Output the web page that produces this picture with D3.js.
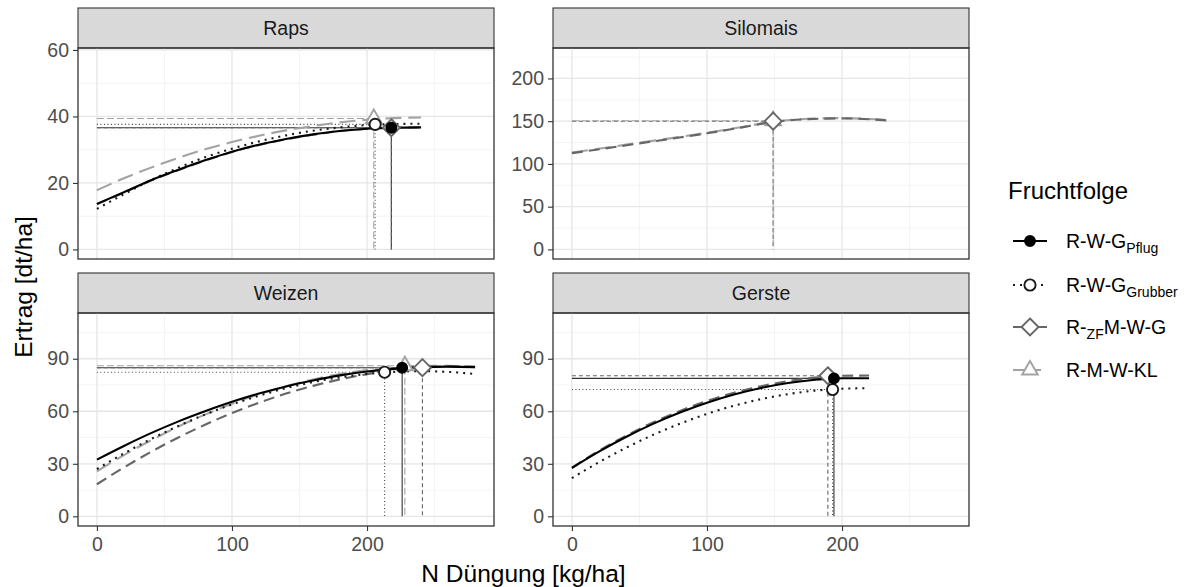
<!DOCTYPE html>
<html>
<head>
<meta charset="utf-8">
<script src="https://cdnjs.cloudflare.com/ajax/libs/d3/7.8.5/d3.min.js"></script>
<style>
  body { margin: 0; background: #fff; }
  svg { display: block; font-family: "Liberation Sans", Arial, sans-serif; }
</style>
</head>
<body>
<svg id="chart" width="1189" height="587"></svg>
<script>

// ---- data ----
const panelNames = ["Raps", "Silomais", "Weizen", "Gerste"];
const seriesNames = ["R-W-G Pflug", "R-W-G Grubber", "R-ZF M-W-G", "R-M-W-KL"];

const xUpper = 280;
const xTicks = [0, 100, 200];
const yUpper = [57.7, 224.4, 110.6, 110.6];
const yTicks = [[0, 20, 40, 60], [0, 50, 100, 150, 200], [0, 30, 60, 90], [0, 30, 60, 90]];

// N rates for the response curves
const rapsN    = [0, 20, 40, 60, 80, 100, 120, 140, 160, 180, 200, 220, 240];
const siloN    = [0, 25, 50, 75, 100, 125, 150, 175, 200, 220, 235];
const weizenN  = [0, 20, 40, 60, 80, 100, 120, 140, 160, 180, 200, 220, 240, 260, 280];
const gersteN  = [0, 20, 40, 60, 80, 100, 120, 140, 160, 180, 200, 220];

// yields [dt/ha]
const rapsPflug   = [13.7, 17.2, 20.8, 23.9, 26.8, 29.4, 31.5, 33.2, 34.6, 35.6, 36.3, 36.6, 36.7];
const rapsGrubber = [12.2, 16.6, 20.8, 24.5, 27.7, 30.3, 32.5, 34.3, 35.7, 36.7, 37.4, 37.7, 37.8];
const rapsZF      = [13.6, 17.1, 20.7, 23.8, 26.7, 29.3, 31.4, 33.1, 34.5, 35.6, 36.3, 36.6, 36.7];
const rapsKL      = [17.8, 21.4, 24.6, 27.5, 30.1, 32.3, 34.2, 35.8, 37.1, 38.2, 39.0, 39.5, 39.7];

const siloZF = [112.6, 118.2, 124.0, 129.8, 135.8, 142.5, 149.2, 152.4, 153.3, 152.3, 150.7];
const siloKL = [113.4, 119.0, 124.8, 130.5, 136.4, 143.0, 149.6, 152.8, 153.6, 152.6, 151.2];

const weizenPflug   = [32.4, 40.2, 47.5, 54.1, 60.0, 65.4, 70.1, 74.2, 77.6, 80.5, 82.7, 84.2, 85.2, 85.5, 85.2];
const weizenGrubber = [27.0, 35.9, 44.1, 51.5, 58.1, 63.9, 68.9, 73.2, 76.7, 79.4, 81.3, 82.5, 82.9, 82.5, 81.3];
const weizenZF      = [18.3, 27.9, 36.8, 44.9, 52.3, 59.0, 64.9, 70.1, 74.5, 78.2, 81.2, 83.4, 84.9, 85.6, 85.6];
const weizenKL      = [25.7, 35.0, 43.4, 51.2, 58.1, 64.3, 69.7, 74.3, 78.2, 81.3, 83.6, 85.1, 85.9, 86.0, 85.1];

const gerstePflug   = [27.6, 36.9, 45.3, 52.8, 59.3, 64.9, 69.6, 73.3, 76.1, 78.0, 78.9, 78.9];
const gersteGrubber = [21.8, 30.9, 39.1, 46.5, 52.9, 58.5, 63.2, 66.9, 69.8, 71.8, 72.9, 73.2];
const gersteZF      = [27.8, 37.4, 46.0, 53.6, 60.2, 65.9, 70.6, 74.3, 77.2, 79.2, 80.3, 80.4];

// optimum N rate and yield per series (null = rotation has no such crop)
const rapsOptN   = [218, 206, 218, 205];
const rapsOptY   = [36.6, 37.6, 36.6, 39.4];
const siloOptN   = [null, null, 149, 149];
const siloOptY   = [null, null, 150.0, 150.6];
const weizenOptN = [226, 213, 241, 228];
const weizenOptY = [84.9, 82.3, 84.9, 86.0];
const gersteOptN = [194, 193, 189.5, null];
const gersteOptY = [78.8, 72.4, 80.3, null];

const curveN = [rapsN, siloN, weizenN, gersteN];
const curveY = [
  [rapsPflug, rapsGrubber, rapsZF, rapsKL],
  [null, null, siloZF, siloKL],
  [weizenPflug, weizenGrubber, weizenZF, weizenKL],
  [gerstePflug, gersteGrubber, gersteZF, null]
];
const optN = [rapsOptN, siloOptN, weizenOptN, gersteOptN];
const optY = [rapsOptY, siloOptY, weizenOptY, gersteOptY];

// ---- styles ----
const lineColor = ["#000000", "#1a1a1a", "#666666", "#a3a3a3"];
const curveDash = [null, "2,5", "11,6", "16,7"];
const refColor  = ["#333333", "#444444", "#666666", "#a3a3a3"];
const refDash   = [null, "1,2.5", "4,3", "7,3"];

// ---- layout ----
const colX = [78, 553];
const panelW = 416;
const stripTop = [8, 273];
const stripH = 40;
const panelH = [211, 213];

const svg = d3.select("#chart");
const diamond = d3.symbolDiamond2 || d3.symbolDiamond;
const triangle = d3.symbolTriangle2 || d3.symbolTriangle;

function addPoint(g, s, cx, cy) {
  if (s == 0 || s == 1) {
    g.append("circle")
      .attr("cx", cx).attr("cy", cy).attr("r", s == 0 ? 5 : 5.6)
      .attr("fill", s == 0 ? "#000" : "#fff")
      .attr("stroke", lineColor[s])
      .attr("stroke-width", 1.9);
  } else {
    let type = s == 2 ? diamond : triangle;
    let size = s == 2 ? 184 : 175;
    g.append("path")
      .attr("d", d3.symbol().type(type).size(size)())
      .attr("transform", "translate(" + cx + "," + cy + ")")
      .attr("fill", "#fff")
      .attr("stroke", lineColor[s])
      .attr("stroke-width", 1.9);
  }
}

function minorTicks(ticks, lo, hi) {
  let step = ticks[1] - ticks[0];
  let out = [];
  for (let t = ticks[0] - step / 2; t <= hi; t += step) {
    if (t >= lo) out.push(t);
  }
  return out;
}

panelNames.forEach(function(name, i) {
  let col = i % 2, row = Math.floor(i / 2);
  let x0 = colX[col];
  let top = stripTop[row] + stripH;
  let h = panelH[row];

  let x = d3.scaleLinear()
    .domain([-0.05 * xUpper, 1.05 * xUpper])
    .range([x0, x0 + panelW]);
  let y = d3.scaleLinear()
    .domain([-0.05 * yUpper[i], 1.05 * yUpper[i]])
    .range([top + h, top]);

  let g = svg.append("g");

  // strip
  g.append("rect")
    .attr("x", x0).attr("y", stripTop[row])
    .attr("width", panelW).attr("height", stripH)
    .attr("fill", "#d9d9d9").attr("stroke", "#333").attr("stroke-width", 1.1);
  g.append("text")
    .attr("x", x0 + panelW / 2).attr("y", stripTop[row] + stripH / 2)
    .attr("dy", "0.36em")
    .attr("text-anchor", "middle")
    .attr("font-size", 19.5)
    .attr("fill", "#1a1a1a")
    .text(name);

  // grid
  let xd = x.domain(), yd = y.domain();
  g.selectAll(".xminor").data(minorTicks(xTicks, xd[0], xd[1])).enter().append("line")
    .attr("x1", d => x(d)).attr("x2", d => x(d)).attr("y1", top).attr("y2", top + h)
    .attr("stroke", "#f1f1f1").attr("stroke-width", 0.8);
  g.selectAll(".yminor").data(minorTicks(yTicks[i], yd[0], yd[1])).enter().append("line")
    .attr("x1", x0).attr("x2", x0 + panelW).attr("y1", d => y(d)).attr("y2", d => y(d))
    .attr("stroke", "#f1f1f1").attr("stroke-width", 0.8);
  g.selectAll(".xmajor").data(xTicks).enter().append("line")
    .attr("x1", d => x(d)).attr("x2", d => x(d)).attr("y1", top).attr("y2", top + h)
    .attr("stroke", "#e6e6e6").attr("stroke-width", 1.3);
  g.selectAll(".ymajor").data(yTicks[i]).enter().append("line")
    .attr("x1", x0).attr("x2", x0 + panelW).attr("y1", d => y(d)).attr("y2", d => y(d))
    .attr("stroke", "#e6e6e6").attr("stroke-width", 1.3);

  // reference lines to the optimum
  for (let s = 0; s < 4; s++) {
    if (optN[i][s] == null) continue;
    let n = optN[i][s], v = optY[i][s];
    let pts = [[0, v], [n, v], [n, 0]];
    g.append("path")
      .attr("d", d3.line().x(d => x(d[0])).y(d => y(d[1]))(pts))
      .attr("fill", "none")
      .attr("stroke", refColor[s])
      .attr("stroke-width", 1.1)
      .attr("stroke-dasharray", refDash[s]);
  }

  // response curves
  let line = d3.line()
    .x(d => x(d[0]))
    .y(d => y(d[1]))
    .curve(d3.curveMonotoneX);
  for (let s = 3; s >= 0; s--) {
    let ys = curveY[i][s];
    if (!ys) continue;
    let pts = curveN[i].map((n, k) => [n, ys[k]]);
    g.append("path")
      .attr("d", line(pts))
      .attr("fill", "none")
      .attr("stroke", lineColor[s])
      .attr("stroke-width", 2.1)
      .attr("stroke-dasharray", curveDash[s]);
  }

  // optimum points
  for (let s = 3; s >= 0; s--) {
    if (optN[i][s] == null) continue;
    addPoint(g, s, x(optN[i][s]), y(optY[i][s]));
  }

  // panel border
  g.append("rect")
    .attr("x", x0).attr("y", top).attr("width", panelW).attr("height", h)
    .attr("fill", "none").attr("stroke", "#333").attr("stroke-width", 1.3);

  // y axis
  let ya = g.append("g")
    .attr("transform", "translate(" + x0 + ",0)")
    .call(d3.axisLeft(y).tickValues(yTicks[i]).tickSize(5).tickPadding(4));
  ya.select(".domain").remove();
  ya.selectAll("line").attr("stroke", "#333").attr("stroke-width", 1.1);
  ya.selectAll("text").attr("font-size", 19.5).attr("fill", "#4d4d4d")
    .attr("font-family", "Liberation Sans, Arial, sans-serif");

  // x axis only on bottom row
  if (row == 1) {
    let xa = g.append("g")
      .attr("transform", "translate(0," + (top + h) + ")")
      .call(d3.axisBottom(x).tickValues(xTicks).tickSize(5).tickPadding(6));
    xa.select(".domain").remove();
    xa.selectAll("line").attr("stroke", "#333").attr("stroke-width", 1.1);
    xa.selectAll("text").attr("font-size", 19.5).attr("fill", "#4d4d4d")
      .attr("font-family", "Liberation Sans, Arial, sans-serif");
  }
});

// axis titles
svg.append("text")
  .attr("x", (colX[0] + colX[1] + panelW) / 2).attr("y", 582)
  .attr("text-anchor", "middle")
  .attr("font-size", 24.5)
  .text("N Düngung [kg/ha]");
svg.append("text")
  .attr("transform", "translate(32,287) rotate(-90)")
  .attr("text-anchor", "middle")
  .attr("font-size", 24.5)
  .text("Ertrag [dt/ha]");

// legend
const legendRows = [241, 285, 327, 370];
const legend = svg.append("g");
legend.append("text")
  .attr("x", 1008).attr("y", 199)
  .attr("font-size", 24)
  .text("Fruchtfolge");

seriesNames.forEach(function(label, s) {
  let cy = legendRows[s];
  legend.append("line")
    .attr("x1", 1013).attr("x2", 1047).attr("y1", cy).attr("y2", cy)
    .attr("stroke", lineColor[s]).attr("stroke-width", 2.1)
    .attr("stroke-dasharray", s == 0 ? null : (s == 1 ? "2,5" : (s == 2 ? "9,16" : "11,6")));
  addPoint(legend, s, 1030, cy);

  let t = legend.append("text")
    .attr("x", 1066).attr("y", cy + 7)
    .attr("font-size", 19.5);
  if (s == 0 || s == 1) {
    t.append("tspan").text("R-W-G");
    t.append("tspan").attr("font-size", 14).attr("dy", 5).text(s == 0 ? "Pflug" : "Grubber");
  } else if (s == 2) {
    t.append("tspan").text("R-");
    t.append("tspan").attr("font-size", 14).attr("dy", 5).text("ZF");
    t.append("tspan").attr("dy", -5).text("M-W-G");
  } else {
    t.text("R-M-W-KL");
  }
});

</script>
</body>
</html>
